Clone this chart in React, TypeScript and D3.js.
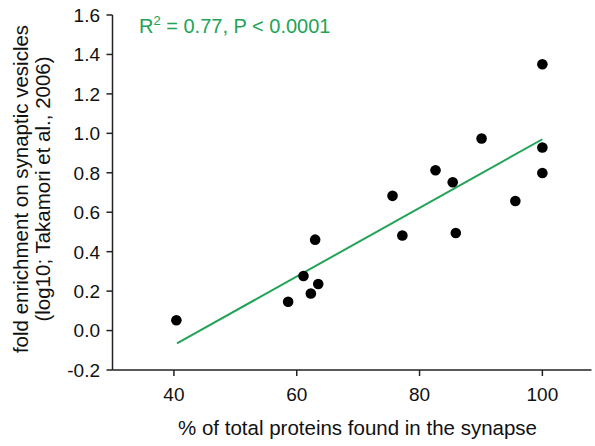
import React from "react";
import * as d3 from "d3";

const xValues = [40.4, 58.6, 61.1, 62.3, 63.5, 63.0, 75.6, 77.2, 82.6, 85.4, 85.9, 90.1, 95.6, 100, 100, 100];
const yValues = [0.052, 0.146, 0.277, 0.188, 0.236, 0.461, 0.683, 0.482, 0.813, 0.752, 0.495, 0.974, 0.657, 0.928, 0.799, 1.35];
const fitX = [40.5, 100];
const fitY = [-0.065, 0.97];
const xTicks = [40, 60, 80, 100];
const yTicks = [-0.2, 0, 0.2, 0.4, 0.6, 0.8, 1.0, 1.2, 1.4, 1.6];

const W = 595;
const H = 446;
const FONT = "'Liberation Sans', Arial, sans-serif";
const GREEN = "#22a357";

export default function App() {
  const x = d3.scaleLinear().domain([30, 108]).range([112.5, 591.5]);
  const y = d3.scaleLinear().domain([-0.2, 1.6]).range([370, 15]);
  const line = d3
    .line<number>()
    .x((_, i) => x(fitX[i]))
    .y((d) => y(d));
  const x0 = x.range()[0];
  const y0 = y.range()[0];

  return (
    <svg
      width={W}
      height={H}
      style={{ position: "absolute", left: 0, top: 0, background: "#fff" }}
      fontFamily={FONT}
    >
      {/* axes */}
      <line x1={x0} x2={x0} y1={y(1.6)} y2={y0} stroke="#222" strokeWidth={1.5} />
      <line x1={x0} x2={x.range()[1]} y1={y0} y2={y0} stroke="#222" strokeWidth={1.5} />
      {yTicks.map((t) => (
        <g key={"y" + t}>
          <line x1={x0 - 6} x2={x0} y1={y(t)} y2={y(t)} stroke="#222" strokeWidth={1.5} />
          <text x={100} y={y(t)} dy="0.36em" textAnchor="end" fontSize={19} fill="#111">
            {d3.format(".1f")(t).replace("−", "-")}
          </text>
        </g>
      ))}
      {xTicks.map((t) => (
        <g key={"x" + t}>
          <line x1={x(t)} x2={x(t)} y1={y0} y2={y0 + 6} stroke="#222" strokeWidth={1.5} />
          <text x={x(t)} y={401} textAnchor="middle" fontSize={19} fill="#111">
            {t}
          </text>
        </g>
      ))}
      <text x={357.5} y={435} textAnchor="middle" fontSize={20.5} fill="#111">
        % of total proteins found in the synapse
      </text>
      <g transform="translate(28,189) rotate(-90)">
        <text x={0} y={0} textAnchor="middle" fontSize={20.5} fill="#111">
          fold enrichment on synaptic vesicles
        </text>
        <text x={0} y={22} textAnchor="middle" fontSize={20.5} fill="#111">
          (log10; Takamori et al., 2006)
        </text>
      </g>
      {/* fit line */}
      <path d={line(fitY) || ""} fill="none" stroke={GREEN} strokeWidth={2} />
      {/* points */}
      {xValues.map((v, i) => (
        <circle key={i} cx={x(v)} cy={y(yValues[i])} r={5.3} fill="#000" />
      ))}
      <text x={139} y={33} fontSize={20} fill={GREEN}>
        R<tspan fontSize={13} dy={-8}>2</tspan>
        <tspan dy={8}> = 0.77, P &lt; 0.0001</tspan>
      </text>
    </svg>
  );
}
